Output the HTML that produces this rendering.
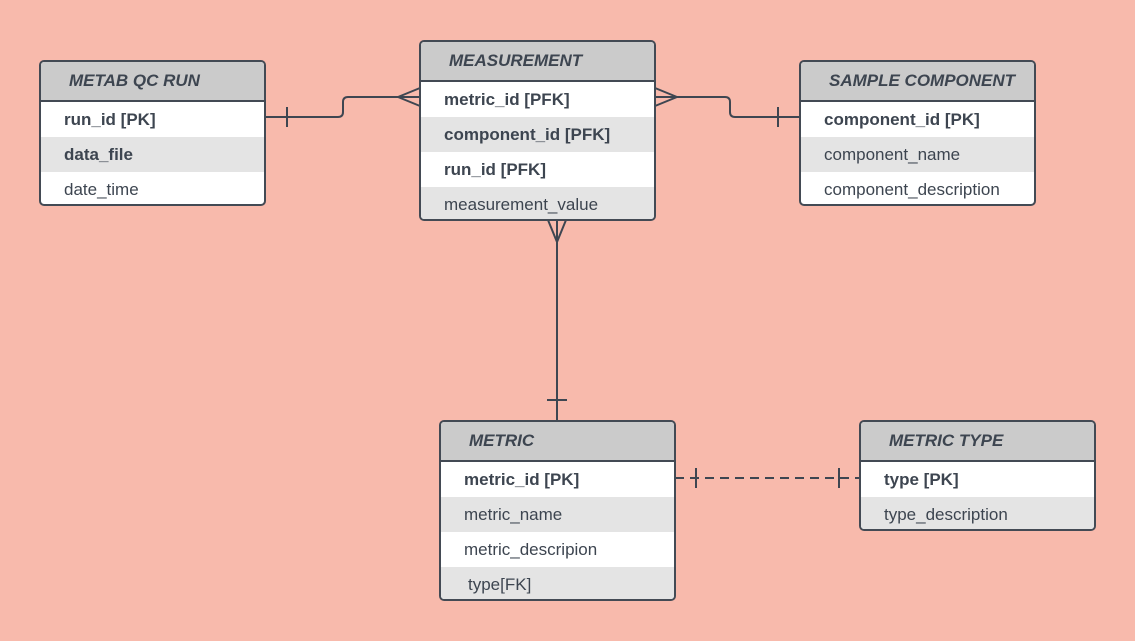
<!DOCTYPE html>
<html><head><style>
body{margin:0;width:1135px;height:641px;background:#f8baac;position:relative;overflow:hidden;font-family:"Liberation Sans","DejaVu Sans",sans-serif;color:#3d4550}
.t{position:absolute;border:2px solid #434a54;border-radius:5px;overflow:hidden;box-sizing:border-box;background:#fff}
.h{height:38px;background:#cbcbcb;border-bottom:2px solid #434a54;font-style:italic;font-weight:bold;font-size:17px;line-height:38px;padding-left:28px;box-sizing:border-box;height:40px}
.r{height:35px;line-height:35px;padding-left:23px;font-size:17px;white-space:nowrap}
.g{background:#e4e4e4}.b{font-weight:bold}
svg{position:absolute;left:0;top:0}
</style></head><body>
<svg width="1135" height="641" fill="none" stroke="#3e4651" stroke-width="2">
<path d="M265 117 H338 Q343 117 343 112 V102 Q343 97 348 97 H420"/>
<path d="M287 107 V127"/>
<path d="M398 97 L420 88 M398 97 L420 106"/>
<path d="M655 97 H725 Q730 97 730 102 V112 Q730 117 735 117 H800"/>
<path d="M778 107 V127"/>
<path d="M677 97 L655 88 M677 97 L655 106"/>
<path d="M557 220 V420"/>
<path d="M547 400 H567"/>
<path d="M557 242 L548 220 M557 242 L566 220"/>
<path d="M675 478 H860" stroke-dasharray="9 6"/>
<path d="M696 468 V488 M839 468 V488"/>
</svg>
<div class="t" style="left:39px;top:60px;width:227px;height:146px"><div class="h">METAB QC RUN</div><div class="r b">run_id [PK]</div><div class="r b g">data_file</div><div class="r">date_time</div></div>
<div class="t" style="left:419px;top:40px;width:237px;height:181px"><div class="h">MEASUREMENT</div><div class="r b">metric_id [PFK]</div><div class="r b g">component_id [PFK]</div><div class="r b">run_id [PFK]</div><div class="r g">measurement_value</div></div>
<div class="t" style="left:799px;top:60px;width:237px;height:146px"><div class="h">SAMPLE COMPONENT</div><div class="r b">component_id [PK]</div><div class="r g">component_name</div><div class="r">component_description</div></div>
<div class="t" style="left:439px;top:420px;width:237px;height:181px"><div class="h">METRIC</div><div class="r b">metric_id [PK]</div><div class="r g">metric_name</div><div class="r">metric_descripion</div><div class="r g" style="padding-left:27px">type[FK]</div></div>
<div class="t" style="left:859px;top:420px;width:237px;height:111px"><div class="h">METRIC TYPE</div><div class="r b">type [PK]</div><div class="r g">type_description</div></div>
</body></html>
